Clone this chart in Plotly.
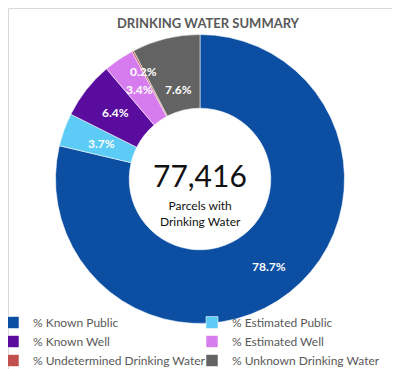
import math
import plotly.graph_objects as go

categories = ["% Known Public", "% Estimated Public", "% Known Well", "% Estimated Well",
              "% Undetermined Drinking Water", "% Unknown Drinking Water"]
values = [78.7, 3.7, 6.4, 3.4, 0.2, 7.6]
colors = ["#0B4EA2", "#5CCBF5", "#5A0C9E", "#D77CEE", "#C0504D", "#636363"]
total_parcels = "77,416"
center_caption = "Parcels with<br>Drinking Water"
title = "DRINKING WATER SUMMARY"

W, H = 400, 369
cx, cy, r = 192, 171, 144.5                 # pie centre / radius in pixels
label_radius = [112, 105, 108, 108, 122, 92]  # distance of each value label from the centre

fig = go.Figure(go.Pie(
    labels=categories,
    values=values,
    textinfo="none",
    sort=False,
    direction="clockwise",
    rotation=0,
    hole=0.49,
    marker=dict(colors=colors, line=dict(color="rgba(255,255,255,0.55)", width=1)),
    domain=dict(x=[(cx - r) / W, (cx + r) / W], y=[(H - cy - r) / H, (H - cy + r) / H]),
    hoverinfo="label+percent",
))

# value labels, placed at each slice's mid-angle
total = sum(values)
cum = 0.0
for i, v in enumerate(values):
    mid = (cum + v / 2) / total
    cum += v
    rho = label_radius[i]
    ang = 2 * math.pi * mid
    px = cx + rho * math.sin(ang)
    py = cy - rho * math.cos(ang)
    fig.add_annotation(x=px / W, y=1 - py / H, xref="paper", yref="paper",
                       xanchor="center", yanchor="middle",
                       text=f"<b>{v:.1f}%</b>", showarrow=False,
                       font=dict(family="Lato", size=12, color="white"))

fig.add_annotation(x=cx / W, y=1 - 167 / H, xref="paper", yref="paper",
                   text=total_parcels, showarrow=False, xanchor="center", yanchor="middle",
                   font=dict(family="Lato", size=30, color="#111111"))
fig.add_annotation(x=cx / W, y=1 - 205 / H, xref="paper", yref="paper",
                   text=center_caption, showarrow=False, xanchor="center", yanchor="middle",
                   font=dict(family="Lato", size=12, color="#111111"))

fig.update_layout(
    width=W, height=H,
    margin=dict(l=0, r=0, t=0, b=0, autoexpand=False),
    paper_bgcolor="white",
    title=dict(text="<b>" + title + "</b>", x=0.5, xanchor="center", y=1 - 15 / H, yanchor="middle",
               font=dict(family="Lato", size=13, color="#595959")),
    legend=dict(orientation="h", x=0.0, xanchor="left", y=2 / H, yanchor="bottom",
                entrywidth=169, entrywidthmode="pixels", traceorder="normal",
                indentation=-15,
                font=dict(family="Lato", size=12, color="#595959"),
                itemwidth=30, bgcolor="rgba(0,0,0,0)"),
    shapes=[dict(type="rect", xref="paper", yref="paper", x0=0.5 / W, y0=0.5 / H,
                 x1=1 - 0.5 / W, y1=1 - 0.5 / H, line=dict(color="#D9D9D9", width=1))],
)

fig.write_html("out.html")
